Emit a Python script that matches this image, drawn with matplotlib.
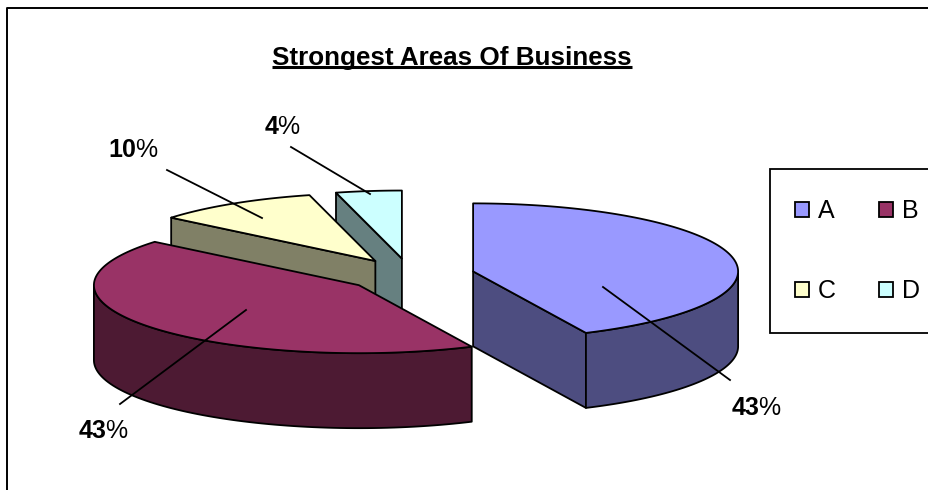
import numpy as np
import matplotlib
matplotlib.use("Agg")
import matplotlib.pyplot as plt
from matplotlib.patches import Polygon, Patch, Rectangle

plt.rcParams['font.family'] = ['Liberation Sans', 'DejaVu Sans']
plt.rcParams['mathtext.fontset'] = 'custom'
plt.rcParams['mathtext.bf'] = 'Liberation Sans:bold'
plt.rcParams['mathtext.rm'] = 'Liberation Sans'

# === data
categories = ["A", "B", "C", "D"]
shares = [43, 43, 10, 4]
title = "Strongest Areas Of Business"

# === colours
top_colors = ["#9999FF", "#993366", "#FFFFCC", "#CCFFFF"]
side_colors = ["#4D4D80", "#4D1A33", "#808066", "#668080"]

# === pie geometry, in pixels
cx, cy = 410, 275
rx, ry = 265, 68
depth = 75
explode = 0.244
lw = 1.3

fig = plt.figure(figsize=(9.29, 4.9), dpi=100)
ax = fig.add_axes([0, 0, 1, 1])
ax.set_xlim(0, 929)
ax.set_ylim(490, 0)
ax.axis("off")


def rim(x0, y0, t):
    return np.column_stack([x0 + rx * np.sin(t), y0 - ry * np.cos(t)])


def face(points, color, z):
    ax.add_patch(Polygon(points, closed=True, facecolor=color, edgecolor="black",
                         linewidth=lw, joinstyle="round", zorder=z))


# chart frame, only the top and left edges fall inside the image
ax.plot([7, 7, 929], [490, 8, 8], color="black", linewidth=1.4, zorder=1)

# angles run clockwise from twelve o'clock
edges = np.radians(np.cumsum([0] + shares) * 360 / sum(shares))

# paint back to front: D, C, B, A
for i in [3, 2, 1, 0]:
    t0, t1 = edges[i], edges[i + 1]
    mid = (t0 + t1) / 2
    x0 = cx + explode * rx * np.sin(mid)
    y0 = cy - explode * ry * np.cos(mid)
    z = 10 + (3 - i) * 3
    apex = np.array([x0, y0])
    drop = np.array([0, depth])

    # radial walls, only those turned towards the viewer
    if np.sin(t0) < -1e-9:
        p = rim(x0, y0, np.array([t0]))[0]
        face([apex, p, p + drop, apex + drop], side_colors[i], z)
    if np.sin(t1) > 1e-9:
        p = rim(x0, y0, np.array([t1]))[0]
        face([apex, p, p + drop, apex + drop], side_colors[i], z)

    # outer wall, front half only
    lo, hi = max(t0, np.pi / 2), min(t1, 3 * np.pi / 2)
    if lo < hi:
        arc = rim(x0, y0, np.linspace(lo, hi, 80))
        face(np.vstack([arc, (arc + drop)[::-1]]), side_colors[i], z + 1)

    # top face
    arc = rim(x0, y0, np.linspace(t0, t1, 120))
    face(np.vstack([apex, arc]), top_colors[i], z + 2)

# === leader lines and value labels
leaders = [((603, 287), (730, 380)), ((246, 310), (120, 404)),
           ((262, 218), (167, 170)), ((370, 194), (291, 147))]
label_xy = [(731, 415), (78, 438), (108, 157), (264, 134)]
for share, (p, q), xy in zip(shares, leaders, label_xy):
    ax.plot([p[0], q[0]], [p[1], q[1]], color="black", linewidth=lw, zorder=30)
    ax.text(xy[0], xy[1], f"$\\mathbf{{{share}}}$%", fontsize=18, ha="left", va="baseline", zorder=31)

# === title with its underline
t = ax.text(452, 65, title, fontsize=18.7, fontweight="bold", ha="center", va="baseline")
bb = t.get_window_extent(fig.canvas.get_renderer())
ax.plot([bb.x0, bb.x1], [67.5, 67.5], color="black", linewidth=2.2, solid_capstyle="butt")

# === legend, its box runs off the right of the image
ax.add_patch(Rectangle((770, 169), 170, 164, facecolor="white", edgecolor="black", linewidth=lw, zorder=5))
order = [0, 2, 1, 3]  # matplotlib fills columns first, this reads A B / C D
handles = [Patch(facecolor=top_colors[k], edgecolor="black", linewidth=lw) for k in order]
leg = ax.legend(handles, [categories[k] for k in order], ncol=2, loc="upper left",
                bbox_to_anchor=(795, 199), bbox_transform=ax.transData, fontsize=18,
                frameon=False, borderaxespad=0, borderpad=0,
                handlelength=0.56, handleheight=0.56, handletextpad=0.36,
                columnspacing=1.72, labelspacing=2.25)
leg.set_zorder(6)

fig.savefig("out.png", dpi=100)
